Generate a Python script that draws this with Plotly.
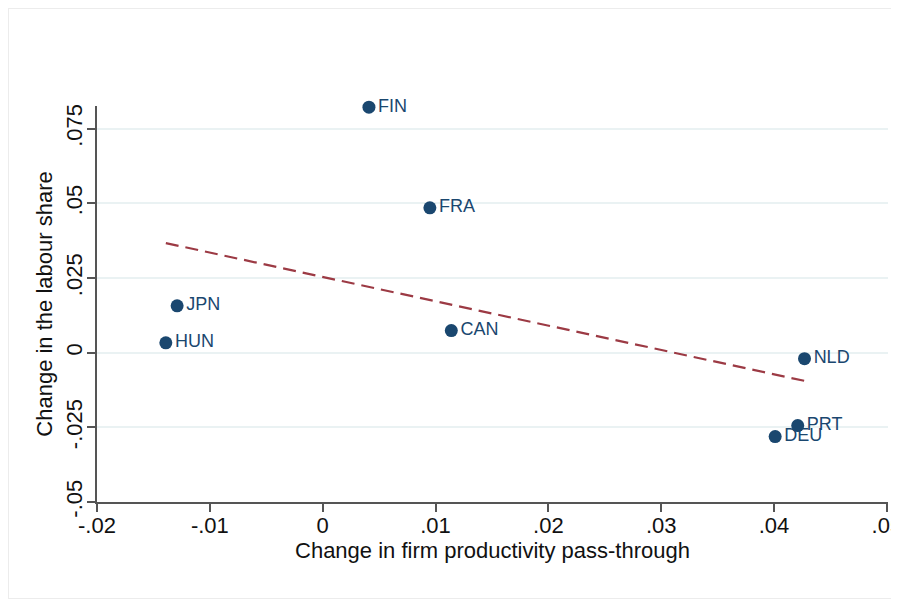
import numpy as np
import plotly.graph_objects as go

countries = ["FIN", "FRA", "JPN", "HUN", "CAN", "NLD", "PRT", "DEU"]
pass_through = [0.0041, 0.0095, -0.0129, -0.0139, 0.0114, 0.0427, 0.0421, 0.0401]
labour_share = [0.0822, 0.0485, 0.0157, 0.0033, 0.0074, -0.0020, -0.0244, -0.0281]

x_ticks = [-0.02, -0.01, 0, 0.01, 0.02, 0.03, 0.04, 0.05]
x_ticktext = ["-.02", "-.01", "0", ".01", ".02", ".03", ".04", ".05"]
y_ticks = [-0.05, -0.025, 0, 0.025, 0.05, 0.075]
y_ticktext = ["-.05", "-.025", "0", ".025", ".05", ".075"]

# OLS fitted line over the data range
xa = np.array(pass_through)
ya = np.array(labour_share)
slope, intercept = np.polyfit(xa, ya, 1)
fit_x = [xa.min(), xa.max()]
fit_y = [intercept + slope * v for v in fit_x]

FONT = "Liberation Sans, Arial, sans-serif"
NAVY = "#1a476f"
MAROON = "#9c3a44"
TXT = "#111111"

W, H = 891, 591
L, R, T, B = 89, 11, 98, 97
PW, PH = W - L - R, H - T - B

fig = go.Figure()
fig.add_trace(go.Scatter(
    x=fit_x, y=fit_y, mode="lines",
    line=dict(color=MAROON, width=2.2, dash="13px,7px"),
    hoverinfo="skip", showlegend=False,
))
fig.add_trace(go.Scatter(
    x=pass_through, y=labour_share, mode="markers+text",
    text=countries, textposition="middle right",
    textfont=dict(family=FONT, size=18, color=NAVY),
    marker=dict(color=NAVY, size=13),
    showlegend=False, cliponaxis=False,
))

fig.update_layout(
    width=W, height=H,
    margin=dict(l=L, r=R, t=T, b=B, autoexpand=False),
    paper_bgcolor="white", plot_bgcolor="white",
    font=dict(family=FONT, color=TXT),
    shapes=[dict(type="rect", xref="paper", yref="paper",
                 x0=-L / PW, x1=1 + R / PW, y0=-B / PH, y1=1 + T / PH,
                 line=dict(color="#ececec", width=2), layer="below")],
)
fig.update_xaxes(
    range=[-0.02, 0.0501], tickvals=x_ticks, ticktext=x_ticktext,
    showgrid=False, zeroline=False, automargin=False,
    showline=True, linecolor="#555555", linewidth=1.5,
    ticks="outside", ticklen=8, tickcolor="#555555", tickwidth=1.5,
    ticklabelstandoff=-5, ticklabeloverflow="allow",
    tickfont=dict(size=22, family=FONT, color=TXT),
    title=dict(text="Change in firm productivity pass-through",
               font=dict(size=22, family=FONT, color=TXT), standoff=2),
)
fig.update_yaxes(
    range=[-0.05, 0.0826], tickvals=y_ticks, ticktext=y_ticktext,
    tickangle=-90,
    showgrid=True, gridcolor="#eaf2f3", gridwidth=1.5, zeroline=False,
    automargin=False,
    showline=True, linecolor="#555555", linewidth=1.5,
    ticks="outside", ticklen=8, tickcolor="#555555", tickwidth=1.5,
    ticklabelstandoff=-4, ticklabeloverflow="allow",
    tickfont=dict(size=22, family=FONT, color=TXT),
    title=dict(text="Change in the labour share",
               font=dict(size=22, family=FONT, color=TXT), standoff=4),
)

fig.write_html("out.html")
